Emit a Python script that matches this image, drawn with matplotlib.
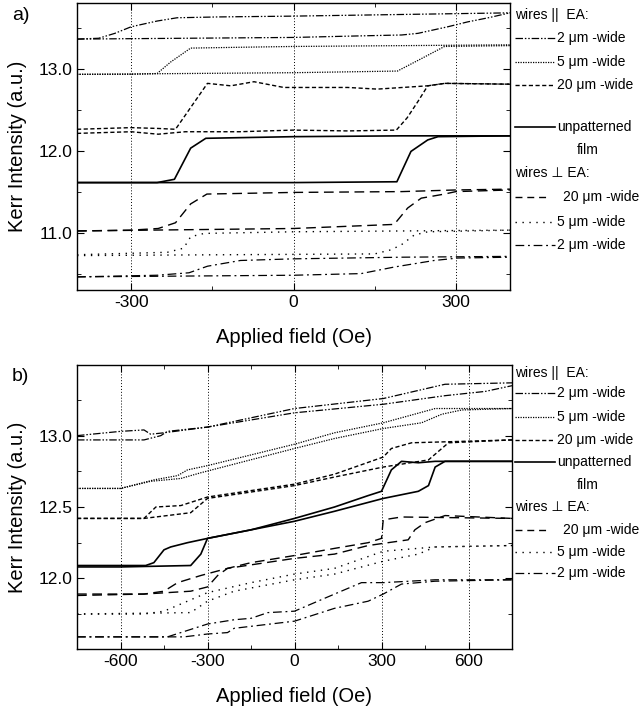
import numpy as np
import matplotlib
matplotlib.use("Agg")
import matplotlib.pyplot as plt
from matplotlib.lines import Line2D
from matplotlib.ticker import MultipleLocator, FormatStrFormatter

plt.rcParams['font.family'] = ['Liberation Sans', 'DejaVu Sans']
plt.rcParams['axes.unicode_minus'] = False

# ---- panel a: (field Oe, Kerr intensity) for both loop branches ----
a_par2_up = [(-400, 13.36), (-360, 13.37), (-330, 13.43), (-300, 13.51), (-252, 13.58),
             (-215, 13.62), (-140, 13.63), (0, 13.64), (200, 13.66), (400, 13.68)]
a_par2_dn = [(-400, 13.36), (-200, 13.37), (0, 13.38), (130, 13.40), (200, 13.41),
             (230, 13.43), (285, 13.51), (322, 13.57), (360, 13.62), (400, 13.68)]
a_par5_up = [(-400, 12.93), (-300, 12.93), (-252, 12.94), (-227, 13.08), (-190, 13.25),
             (-100, 13.26), (0, 13.27), (200, 13.28), (400, 13.29)]
a_par5_dn = [(-400, 12.93), (-200, 12.94), (0, 12.95), (192, 12.97), (230, 13.10),
             (279, 13.27), (400, 13.28)]
a_par20_up = [(-400, 12.26), (-300, 12.28), (-250, 12.27), (-218, 12.26), (-159, 12.82),
              (-116, 12.79), (-73, 12.84), (-18, 12.77), (50, 12.77), (100, 12.77),
              (155, 12.75), (248, 12.79), (279, 12.82), (400, 12.81)]
a_par20_dn = [(-400, 12.21), (-300, 12.23), (-250, 12.20), (-200, 12.23), (-100, 12.23),
              (0, 12.25), (100, 12.24), (190, 12.25), (210, 12.40), (230, 12.60),
              (248, 12.79), (280, 12.82), (400, 12.81)]
a_film_up = [(-400, 11.61), (-252, 11.61), (-220, 11.65), (-190, 12.03), (-162, 12.15),
             (0, 12.17), (200, 12.18), (400, 12.18)]
a_film_dn = [(-400, 11.61), (0, 11.61), (191, 11.62), (217, 11.99), (248, 12.13),
             (267, 12.17), (400, 12.18)]
a_perp20_up = [(-400, 11.02), (-300, 11.03), (-250, 11.05), (-218, 11.12), (-190, 11.35),
               (-160, 11.47), (0, 11.49), (200, 11.50), (300, 11.52), (400, 11.53)]
a_perp20_dn = [(-400, 11.02), (0, 11.05), (186, 11.10), (211, 11.30), (236, 11.42),
               (279, 11.47), (300, 11.50), (400, 11.52)]
a_perp5_up = [(-400, 10.73), (-233, 10.76), (-203, 10.81), (-190, 10.95), (-165, 10.99),
              (0, 11.01), (200, 11.02), (400, 11.03)]
a_perp5_dn = [(-400, 10.72), (150, 10.74), (180, 10.79), (199, 10.85), (223, 10.97),
              (248, 11.01), (400, 11.03)]
a_perp2_up = [(-400, 10.46), (-252, 10.48), (-193, 10.51), (-159, 10.59), (-98, 10.66),
              (0, 10.68), (200, 10.70), (400, 10.71)]
a_perp2_dn = [(-400, 10.46), (0, 10.48), (125, 10.50), (186, 10.58), (260, 10.66),
              (304, 10.69), (400, 10.70)]

# ---- panel b ----
b_par2_up = [(-750, 13.00), (-600, 13.03), (-519, 13.04), (-496, 13.01), (-450, 13.02),
             (-300, 13.06), (0, 13.19), (306, 13.26), (519, 13.36), (750, 13.37)]
b_par2_dn = [(-750, 12.97), (-600, 12.97), (-519, 12.97), (-461, 13.00), (-438, 13.03),
             (-300, 13.06), (0, 13.16), (306, 13.22), (519, 13.28), (658, 13.31), (750, 13.35)]
b_par5_up = [(-750, 12.63), (-600, 12.63), (-485, 12.69), (-403, 12.72), (-369, 12.76),
             (-300, 12.79), (0, 12.94), (138, 13.02), (306, 13.09), (485, 13.19),
             (600, 13.19), (750, 13.19)]
b_par5_dn = [(-750, 12.63), (-600, 12.63), (-496, 12.68), (-392, 12.70), (-323, 12.74),
             (0, 12.91), (138, 12.98), (306, 13.05), (438, 13.09), (508, 13.15),
             (577, 13.18), (750, 13.19)]
b_par20_up = [(-750, 12.42), (-600, 12.42), (-519, 12.42), (-478, 12.50), (-392, 12.51),
              (-300, 12.57), (0, 12.66), (138, 12.73), (306, 12.85), (334, 12.91),
              (404, 12.95), (750, 12.97)]
b_par20_dn = [(-750, 12.42), (-519, 12.42), (-358, 12.46), (-300, 12.56), (0, 12.65),
              (138, 12.71), (306, 12.78), (462, 12.83), (531, 12.95), (750, 12.97)]
b_film_up = [(-750, 12.09), (-513, 12.09), (-485, 12.11), (-450, 12.20), (-427, 12.22),
             (-369, 12.25), (-300, 12.28), (-150, 12.34), (0, 12.42), (138, 12.50),
             (254, 12.58), (300, 12.61), (334, 12.76), (369, 12.82), (427, 12.81),
             (485, 12.82), (750, 12.82)]
b_film_dn = [(-750, 12.08), (-600, 12.08), (-358, 12.09), (-323, 12.17), (-300, 12.28),
             (-150, 12.34), (0, 12.40), (138, 12.47), (306, 12.56), (427, 12.61),
             (462, 12.65), (485, 12.78), (519, 12.82), (750, 12.82)]
b_perp20_up = [(-750, 11.89), (-519, 11.89), (-450, 11.91), (-403, 11.97), (-323, 12.02),
               (-231, 12.07), (-150, 12.11), (0, 12.16), (138, 12.21), (254, 12.25),
               (300, 12.28), (306, 12.41), (369, 12.43), (750, 12.42)]
b_perp20_dn = [(-750, 11.88), (-519, 11.89), (-358, 11.91), (-300, 11.94), (-265, 12.02),
               (-231, 12.07), (0, 12.14), (138, 12.17), (254, 12.23), (392, 12.27),
               (415, 12.34), (450, 12.39), (519, 12.44), (750, 12.42)]
b_perp5_up = [(-750, 11.75), (-519, 11.75), (-450, 11.77), (-369, 11.84), (-300, 11.90),
              (-150, 11.97), (0, 12.03), (138, 12.07), (306, 12.19), (485, 12.22), (750, 12.23)]
b_perp5_dn = [(-750, 11.75), (-358, 11.76), (-300, 11.84), (-208, 11.91), (0, 11.99),
              (138, 12.03), (306, 12.12), (427, 12.17), (485, 12.22), (750, 12.23)]
b_perp2_up = [(-750, 11.59), (-438, 11.59), (-392, 11.62), (-300, 11.68), (-208, 11.71),
              (-150, 11.72), (-92, 11.76), (0, 11.77), (138, 11.89), (196, 11.94),
              (231, 11.97), (306, 11.97), (485, 11.99), (750, 11.99)]
b_perp2_dn = [(-750, 11.59), (-381, 11.59), (-300, 11.61), (-231, 11.62), (-208, 11.65),
              (0, 11.70), (138, 11.79), (254, 11.84), (306, 11.89), (369, 11.96),
              (485, 11.98), (750, 11.99)]

samples = ["par2", "par5", "par20", "film", "perp20", "perp5", "perp2"]
labels = ["2 \u03bcm -wide", "5 \u03bcm -wide", "20 \u03bcm -wide", "unpatterned",
          "20 \u03bcm -wide", "5 \u03bcm -wide", "2 \u03bcm -wide"]

styles = {
    "par2": dict(ls=(0, (6, 1.5, 1.2, 1.5, 1.2, 1.5)), lw=0.9),
    "par5": dict(ls=(0, (1, 1)), lw=0.9),
    "par20": dict(ls=(0, (3, 1.8)), lw=1.0),
    "film": dict(ls="-", lw=1.2),
    "perp20": dict(ls=(0, (7, 4)), lw=1.0),
    "perp5": dict(ls=(0, (1, 4)), lw=1.0),
    "perp2": dict(ls=(0, (7, 3, 1.5, 3)), lw=0.9),
}

W, H = 642, 710
fig = plt.figure(figsize=(W / 100, H / 100), dpi=100)


def fx(px):
    return px / W


def fy(py):
    return 1 - py / H


def draw_panel(rect, prefix, xlim, ylim, ymaj, ymin):
    ax = fig.add_axes(rect)
    g = globals()
    for s in samples:
        for br in ("up", "dn"):
            d = np.array(g[f"{prefix}_{s}_{br}"])
            ax.plot(d[:, 0], d[:, 1], color="black", linestyle=styles[s]["ls"],
                    linewidth=styles[s]["lw"])
    ax.set_xlim(*xlim)
    ax.set_ylim(*ylim)
    ax.xaxis.set_major_locator(MultipleLocator(300))
    ax.xaxis.set_minor_locator(MultipleLocator(150))
    ax.yaxis.set_major_locator(MultipleLocator(ymaj))
    ax.yaxis.set_minor_locator(MultipleLocator(ymin))
    ax.yaxis.set_major_formatter(FormatStrFormatter("%.1f"))
    ax.grid(axis="x", which="major", linestyle=(0, (1, 2)), color="black", linewidth=0.7)
    ax.tick_params(which="both", direction="in", top=True, right=True, labelsize=12.5)
    ax.tick_params(which="major", length=5)
    ax.tick_params(which="minor", length=3)
    for sp in ax.spines.values():
        sp.set_linewidth(1.0)
    ax.set_xlabel("Applied field (Oe)", fontsize=14.5, labelpad=13)
    ax.set_ylabel("Kerr Intensity (a.u.)", fontsize=14.5, labelpad=8)
    return ax


ax_a = draw_panel([fx(77), fy(290), fx(510) - fx(77), fy(3) - fy(290)],
                  "a", (-400, 400), (10.3, 13.8), 1.0, 0.5)
ax_b = draw_panel([fx(77), fy(649), fx(512) - fx(77), fy(365) - fy(649)],
                  "b", (-750, 750), (11.505, 13.495), 0.5, 0.25)

fig.text(fx(12), fy(16), "a)", fontsize=14, va="center")
fig.text(fx(12), fy(377), "b)", fontsize=14, va="center")


def legend_block(rows, header1, header2, film2):
    fs = 10
    fig.text(fx(515), fy(header1), "wires ||  EA:", fontsize=fs, va="center")
    fig.text(fx(515), fy(header2), "wires \u22a5 EA:", fontsize=fs, va="center")
    fig.text(fx(577), fy(film2), "film", fontsize=fs, va="center")
    for s, lab, py in zip(samples, labels, rows):
        x1, xt = 555, 557
        ls = styles[s]["ls"]
        if s == "perp20":
            x1, xt = 548, 563
            ls = (0, (5, 3.5))
        fig.add_artist(Line2D([fx(515), fx(x1)], [fy(py), fy(py)], color="black",
                              linestyle=ls, linewidth=styles[s]["lw"],
                              transform=fig.transFigure))
        fig.text(fx(xt), fy(py), lab, fontsize=fs, va="center")


legend_block([38, 62, 85, 127, 197, 222, 245], 15, 173, 150)
legend_block([393, 417, 440, 462, 530, 552, 573], 373, 507, 485)

fig.savefig("out.png", dpi=100)
